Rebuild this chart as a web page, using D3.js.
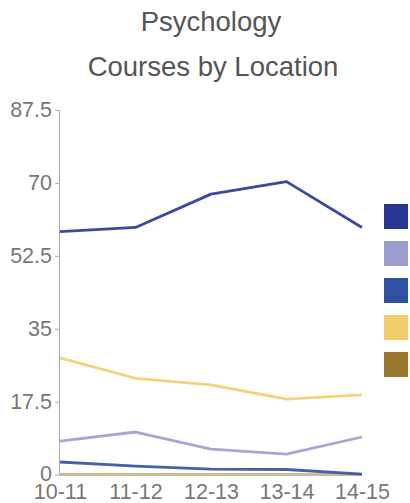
<!DOCTYPE html>
<html>
<head>
<meta charset="utf-8">
<script src="https://cdn.jsdelivr.net/npm/d3@7/dist/d3.min.js"></script>
<style>
  html, body { margin: 0; padding: 0; background: #fff; }
  svg { display: block; font-family: "Liberation Sans", Arial, Helvetica, sans-serif; }
</style>
</head>
<body>
<svg id="chart" width="410" height="503"></svg>
<script>
// Academic years on the x axis
const years = ["10-11", "11-12", "12-13", "13-14", "14-15"];

// Course counts per location, one array per series
const location1 = [58.3, 59.3, 67.3, 70.3, 59.3];
const location2 = [8.0, 10.2, 6.1, 4.9, 9.0];
const location3 = [3.0, 2.0, 1.3, 1.2, 0.1];
const location4 = [28.0, 23.1, 21.5, 18.1, 19.1];
const location5 = [0, 0, 0, 0, 0];

const seriesColors = ["#283593", "#9c9ccf", "#3050a0", "#f2cd6e", "#9a7830"];
const yTicks = [0, 17.5, 35, 52.5, 70, 87.5];

const series = [location1, location2, location3, location4, location5];

const svg = d3.select("#chart");
const plot = { left: 60, right: 362, top: 110, bottom: 474.5 };

const x = d3.scalePoint().domain(years).range([plot.left, plot.right]);
const y = d3.scaleLinear().domain([0, 87.5]).range([plot.bottom, plot.top]);

// Title
const title = svg.append("g").attr("fill", "#555").attr("font-size", 27.5).attr("text-anchor", "middle");
title.append("text").attr("x", 211).attr("y", 31).text("Psychology");
title.append("text").attr("x", 213).attr("y", 76).text("Courses by Location");

// Y axis
const yAxis = svg.append("g")
  .attr("transform", `translate(${plot.left},0)`)
  .call(d3.axisLeft(y).tickValues(yTicks).tickSize(5).tickPadding(3).tickFormat(d => d3.format("")(d)));
yAxis.select(".domain").attr("stroke", "#aaa").attr("d", `M-0.5,${y(87.5)}V${y(0)}`);
yAxis.selectAll(".tick line").attr("stroke", "#aaa");
yAxis.selectAll(".tick text")
  .attr("fill", "#777").attr("font-size", 21.5)
  .attr("font-family", "Liberation Sans, Arial, sans-serif")
  .attr("dy", "0.3em");

// X axis labels
const xAxis = svg.append("g")
  .attr("transform", `translate(0,${y(0)})`)
  .call(d3.axisBottom(x).tickSize(0).tickPadding(9));
xAxis.select(".domain").remove();
xAxis.selectAll(".tick text")
  .attr("fill", "#777").attr("font-size", 21.5)
  .attr("font-family", "Liberation Sans, Arial, sans-serif");

// Lines, the flat zero series first so the others sit on top
const line = d3.line().x((d, i) => x(years[i])).y(d => y(d));
const order = [4, 3, 1, 2, 0];
svg.append("g").selectAll("path")
  .data(order)
  .join("path")
  .attr("d", i => line(series[i]))
  .attr("fill", "none")
  .attr("stroke", i => seriesColors[i])
  .attr("stroke-opacity", i => i === 4 ? 0.5 : 0.9)
  .attr("stroke-width", 2.8)
  .attr("stroke-linejoin", "round");

// Legend swatches
svg.append("g").selectAll("rect")
  .data(seriesColors)
  .join("rect")
  .attr("x", 384)
  .attr("y", (d, i) => 204 + i * 37)
  .attr("width", 24)
  .attr("height", 25)
  .attr("fill", d => d);
</script>
</body>
</html>
